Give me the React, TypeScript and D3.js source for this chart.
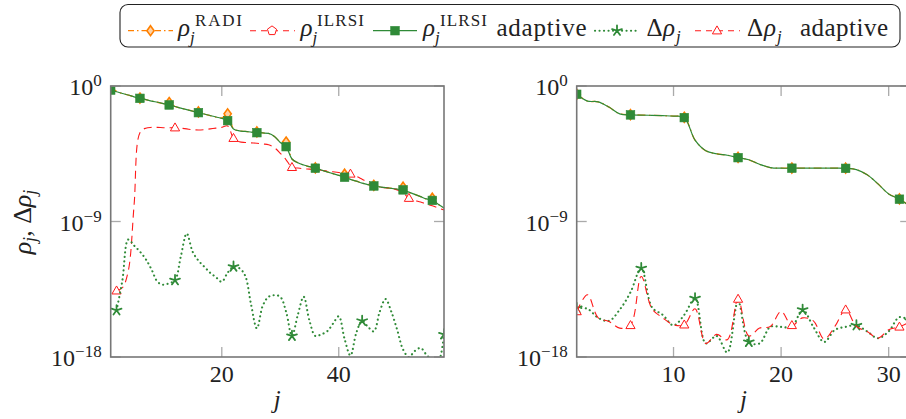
import React from 'react';
import * as d3 from 'd3';

// ---- data (log10 of the values) ----
// left panel, j = 1..58
const leftRadiExp = [
  -0.02, -0.36, -0.5, -0.6, -0.72, -0.8, -0.9, -1.0, -1.08, -1.17,
  -1.1, -1.36, -1.47, -1.57, -1.67, -1.72, -1.86, -1.96, -2.06, -2.12,
  -1.85, -2.85, -2.98, -3.02, -3.06, -3.05, -3.12, -3.15, -3.35, -3.7,
  -3.72, -4.85, -5.1, -5.25, -5.36, -5.44, -5.58, -5.7, -5.82, -5.94,
  -5.86, -6.2, -6.32, -6.45, -6.55, -6.6, -6.7, -6.75, -6.8, -6.85,
  -6.72, -7.05, -7.2, -7.35, -7.5, -7.45, -7.85, -8.1,
];
const leftAdaptiveExp = [
  -0.27, -0.38, -0.5, -0.6, -0.72, -0.82, -0.9, -1.0, -1.08, -1.17,
  -1.26, -1.36, -1.47, -1.57, -1.67, -1.77, -1.86, -1.96, -2.06, -2.15,
  -2.3, -2.85, -2.98, -3.02, -3.06, -3.1, -3.12, -3.15, -3.35, -3.75,
  -4.03, -4.85, -5.1, -5.25, -5.36, -5.46, -5.58, -5.7, -5.82, -5.94,
  -6.06, -6.2, -6.32, -6.45, -6.55, -6.64, -6.7, -6.75, -6.8, -6.85,
  -6.9, -7.05, -7.2, -7.35, -7.5, -7.6, -7.85, -8.1,
];
// left panel, j = 2..58
const leftRedExp = [
  -13.6, -13.4, -12.3, -7.9, -3.1, -2.8, -2.75, -2.75, -2.77, -2.77,
  -2.77, -2.8, -2.85, -2.9, -2.92, -2.9, -2.85, -2.8, -2.75, -2.65,
  -3.47, -3.7, -3.75, -3.78, -3.8, -3.85, -3.9, -4.1, -4.47, -4.9,
  -5.4, -5.45, -5.5, -5.52, -5.55, -5.6, -5.65, -5.7, -5.75, -5.8,
  -5.84, -6.0, -6.2, -6.4, -6.65, -6.72, -6.76, -6.8, -6.9, -7.1,
  -7.45, -7.6, -7.7, -7.85, -7.96, -8.1, -8.23,
];
const leftDeltaExp = [
  -14.9, -12.9, -10.2, -10.6, -11.0, -11.5, -12.2, -13.0, -13.2, -13.1,
  -12.9, -11.3, -9.8, -11.0, -11.6, -12.0, -12.4, -12.7, -13.0, -12.4,
  -12.0, -12.1, -12.6, -14.5, -16.1, -14.6, -14.0, -13.9, -14.0, -15.0,
  -16.6, -15.2, -14.0, -15.6, -16.6, -16.5, -16.3, -15.8, -15.3, -16.8,
  -17.9, -16.4, -15.6, -16.0, -16.3, -15.0, -14.15, -15.0, -16.2, -17.5,
  -18.0, -17.6, -17.4, -17.85, -18.2, -18.3, -16.5,
];
const leftSquareJ = [1, 6, 11, 16, 21, 26, 31, 36, 41, 46, 51, 56];
const leftRedMarkJ = [2, 12, 22, 32, 42, 52];
const leftStarJ = [2, 12, 22, 32, 44, 58];

// right panel, j = 1..32
const rightRadiExp = [
  -0.55, -1.0, -1.05, -1.4, -1.85, -1.9, -1.93, -1.95, -1.97, -2.0,
  -2.08, -3.6, -4.3, -4.5, -4.6, -4.74, -4.9, -5.2, -5.42, -5.46,
  -5.45, -5.46, -5.46, -5.46, -5.46, -5.46, -5.55, -5.9, -6.5, -7.17,
  -7.5, -8.0,
];
const rightAdaptiveExp = [
  -0.55, -1.0, -1.05, -1.4, -1.85, -1.92, -1.93, -1.95, -1.97, -2.0,
  -2.1, -3.6, -4.3, -4.5, -4.6, -4.76, -4.9, -5.2, -5.42, -5.46,
  -5.46, -5.46, -5.46, -5.46, -5.46, -5.47, -5.55, -5.9, -6.5, -7.17,
  -7.52, -8.0,
];
const rightDeltaExp = [
  -14.75, -14.8, -15.4, -15.6, -14.86, -13.7, -12.1, -14.7, -15.2, -15.9,
  -15.2, -14.1, -17.1, -16.6, -17.7, -14.3, -17.0, -17.1, -16.0, -16.0,
  -16.0, -14.86, -16.0, -17.0, -16.2, -16.0, -15.9, -16.3, -16.75, -16.3,
  -15.35, -15.6,
];
const rightDeltaAdaptiveExp = [
  -14.98, -13.87, -15.4, -15.64, -16.08, -15.9, -12.65, -14.8, -15.4, -15.86,
  -15.86, -14.8, -17.1, -16.5, -16.85, -14.15, -16.6, -16.08, -15.97, -14.97,
  -15.9, -15.4, -15.6, -16.8, -15.97, -14.86, -15.97, -16.3, -16.75, -16.19,
  -16.0, -15.65,
];
const rightSquareJ = [1, 6, 11, 16, 21, 26, 31];
const rightStarJ = [1, 7, 12, 17, 22, 27, 32];
const rightTriJ = [1, 6, 11, 16, 21, 26, 31];

const yTicks = [1e-18, 1e-9, 1];
const yTickLabels = ['−18', '−9', '0'];
const leftXTicks = [20, 40];
const rightXTicks = [10, 20, 30];

// ---- styles ----
const ORANGE = '#ff8000';
const RED = '#ff1a1a';
const GREEN = '#2f8a37';
const AXIS = '#777';
const TICK = '#aaa';
const FONT = 'Liberation Serif';

const top = 86;
const bottom = 357;

type Pt = [number, number];

const toPts = (start: number, exps: number[]): Pt[] =>
  exps.map((e, i) => [start + i, Math.pow(10, e)]);

function Diamond({ x, y }: { x: number; y: number }) {
  return (
    <path d={`M${x},${y - 5}L${x + 3.6},${y}L${x},${y + 5}L${x - 3.6},${y}Z`}
      fill="#ffd2a6" stroke={ORANGE} strokeWidth={1.6} />
  );
}
function Square({ x, y }: { x: number; y: number }) {
  return <rect x={x - 4.3} y={y - 4.3} width={8.6} height={8.6} fill={GREEN} stroke={GREEN} strokeWidth={0.6} />;
}
function Triangle({ x, y }: { x: number; y: number }) {
  return (
    <path d={`M${x},${y - 4.8}L${x + 4.6},${y + 3.2}L${x - 4.6},${y + 3.2}Z`}
      fill="white" stroke={RED} strokeWidth={1} />
  );
}
function Pentagon({ x, y }: { x: number; y: number }) {
  const pts = d3.range(5).map((k) => {
    const a = -Math.PI / 2 + (k * 2 * Math.PI) / 5;
    return `${x + 4.8 * Math.cos(a)},${y + 4.8 * Math.sin(a)}`;
  });
  return <polygon points={pts.join(' ')} fill="white" stroke={RED} strokeWidth={1} />;
}
function Star({ x, y }: { x: number; y: number }) {
  const rays = d3.range(5).map((k) => {
    const a = -Math.PI / 2 + (k * 2 * Math.PI) / 5;
    return `M${x},${y}L${x + 5.2 * Math.cos(a)},${y + 5.2 * Math.sin(a)}`;
  });
  return <path d={rays.join('')} stroke={GREEN} strokeWidth={1.8} fill="none" strokeLinecap="round" />;
}

type Series = {
  pts: Pt[];
  color: string;
  dash: string;
  width: number;
  cap?: 'round' | 'butt';
  marks: number[];
  Mark: (p: { x: number; y: number }) => JSX.Element;
};

function Panel({ id, x0, x1, domain, xTicks, series }: {
  id: string; x0: number; x1: number; domain: [number, number]; xTicks: number[]; series: Series[];
}) {
  const x = d3.scaleLinear().domain(domain).range([x0, x1]);
  const y = d3.scaleLog().domain([1e-18, 1]).range([bottom, top]);
  const line = d3.line<Pt>()
    .x((d) => x(d[0]))
    .y((d) => y(d[1]))
    .curve(d3.curveCatmullRom.alpha(0.5));

  return (
    <g>
      <defs>
        <clipPath id={id}>
          <rect x={x0} y={top} width={x1 - x0} height={bottom - top} />
        </clipPath>
      </defs>
      <g clipPath={`url(#${id})`}>
        {series.map((s, i) => (
          <g key={i}>
            <path d={line(s.pts) || ''} fill="none" stroke={s.color} strokeWidth={s.width}
              strokeDasharray={s.dash} strokeLinecap={s.cap || 'butt'} />
            {s.marks.map((j) => {
              const p = s.pts.find((d) => d[0] === j);
              if (!p) return null;
              const M = s.Mark;
              return <M key={j} x={x(p[0])} y={y(p[1])} />;
            })}
          </g>
        ))}
      </g>
      {/* ticks */}
      {xTicks.map((t) => (
        <g key={t}>
          <line x1={x(t)} x2={x(t)} y1={bottom} y2={bottom - 10} stroke={TICK} strokeWidth={1.3} />
          <line x1={x(t)} x2={x(t)} y1={top} y2={top + 10} stroke={TICK} strokeWidth={1.3} />
          <text x={x(t)} y={382} textAnchor="middle" fontSize={24} fontFamily={FONT} fill="#222">{t}</text>
        </g>
      ))}
      {yTicks.map((t, i) => (
        <g key={t}>
          <line x1={x0} x2={x0 + 10} y1={y(t)} y2={y(t)} stroke={TICK} strokeWidth={1.3} />
          <line x1={x1} x2={x1 - 10} y1={y(t)} y2={y(t)} stroke={TICK} strokeWidth={1.3} />
          <text x={x0 - 9} y={y(t) + 9} textAnchor="end" fontSize={24} fontFamily={FONT} fill="#222">
            10<tspan dy={-9} fontSize={17}>{yTickLabels[i]}</tspan>
          </text>
        </g>
      ))}
      <rect x={x0} y={top} width={x1 - x0} height={bottom - top} fill="none" stroke={AXIS} strokeWidth={1.6} />
      <text x={(x0 + x1) / 2} y={408} textAnchor="middle" fontSize={25} fontStyle="italic" fontFamily={FONT} fill="#222">j</text>
    </g>
  );
}

const radiStyle = { color: ORANGE, dash: '8,3.5,1.5,3.5', width: 1.3, Mark: Diamond };
const adaptStyle = { color: GREEN, dash: '', width: 1.2, Mark: Square };
const redStyle = { color: RED, dash: '8,5', width: 1.1, Mark: Triangle };
const deltaStyle = { color: GREEN, dash: '0.1,4.4', width: 2.1, cap: 'round' as const, Mark: Star };

export default function App() {
  const leftSeries: Series[] = [
    { ...radiStyle, pts: toPts(1, leftRadiExp), marks: leftSquareJ },
    { ...redStyle, pts: toPts(2, leftRedExp), marks: leftRedMarkJ },
    { ...adaptStyle, pts: toPts(1, leftAdaptiveExp), marks: leftSquareJ },
    { ...deltaStyle, pts: toPts(2, leftDeltaExp), marks: leftStarJ },
  ];
  const rightSeries: Series[] = [
    { ...radiStyle, pts: toPts(1, rightRadiExp), marks: rightSquareJ },
    { ...adaptStyle, pts: toPts(1, rightAdaptiveExp), marks: rightSquareJ },
    { ...deltaStyle, pts: toPts(1, rightDeltaExp), marks: rightStarJ },
    { ...redStyle, pts: toPts(1, rightDeltaAdaptiveExp), marks: rightTriJ },
  ];

  const ly = 30.7;

  return (
    <svg width={906} height={419} fontFamily={FONT}
      style={{ position: 'absolute', left: 0, top: 0, background: 'white', fontFamily: "'Liberation Serif', serif" }}>
      <Panel id="clipL" x0={110.7} x1={444} domain={[1, 58]} xTicks={leftXTicks} series={leftSeries} />
      <Panel id="clipR" x0={576.7} x1={910.2} domain={[1, 32]} xTicks={rightXTicks} series={rightSeries} />

      {/* y axis title */}
      <text transform="translate(31,222) rotate(-90)" textAnchor="middle" fontSize={26} fontFamily={FONT} fill="#222">
        <tspan fontStyle="italic">ρ</tspan>
        <tspan dy={5} fontSize={18} fontStyle="italic">j</tspan>
        <tspan dy={-5}>, Δ</tspan>
        <tspan fontStyle="italic">ρ</tspan>
        <tspan dy={5} fontSize={18} fontStyle="italic">j</tspan>
      </text>

      {/* legend */}
      <rect x={120} y={4.5} width={780} height={42.5} rx={8} fill="white" stroke="#222" strokeWidth={1.1} />
      <line x1={128} x2={173} y1={ly} y2={ly} stroke={ORANGE} strokeWidth={1.3} strokeDasharray="6,3,1.5,3" />
      <Diamond x={150.5} y={ly} />
      <text fontSize={25} fontFamily={FONT} fill="#222">
        <tspan x={178} y={36} fontStyle="italic">ρ</tspan>
        <tspan x={190} y={43} fontSize={17} fontStyle="italic">j</tspan>
        <tspan x={195} y={26} fontSize={17} textLength={47}>RADI</tspan>
      </text>

      <line x1={250} x2={295} y1={ly} y2={ly} stroke={RED} strokeWidth={1.1} strokeDasharray="6,5" />
      <Pentagon x={272} y={ly} />
      <text fontSize={25} fontFamily={FONT} fill="#222">
        <tspan x={300.5} y={36} fontStyle="italic">ρ</tspan>
        <tspan x={312.5} y={43} fontSize={17} fontStyle="italic">j</tspan>
        <tspan x={317} y={26} fontSize={17} textLength={47}>ILRSI</tspan>
      </text>

      <line x1={373} x2={417} y1={ly} y2={ly} stroke={GREEN} strokeWidth={1.2} />
      <Square x={395} y={ly} />
      <text fontSize={25} fontFamily={FONT} fill="#222">
        <tspan x={423} y={36} fontStyle="italic">ρ</tspan>
        <tspan x={435} y={43} fontSize={17} fontStyle="italic">j</tspan>
        <tspan x={440} y={26} fontSize={17} textLength={47}>ILRSI</tspan>
        <tspan x={496.5} y={36} textLength={90}>adaptive</tspan>
      </text>

      <line x1={595} x2={640} y1={ly} y2={ly} stroke={GREEN} strokeWidth={2.1} strokeDasharray="0.1,4.4" strokeLinecap="round" />
      <Star x={617} y={ly} />
      <text fontSize={25} fontFamily={FONT} fill="#222">
        <tspan x={646.5} y={36}>Δ</tspan>
        <tspan x={663} y={36} fontStyle="italic">ρ</tspan>
        <tspan x={676} y={42} fontSize={17} fontStyle="italic">j</tspan>
      </text>

      <line x1={695} x2={740} y1={ly} y2={ly} stroke={RED} strokeWidth={1.1} strokeDasharray="6,5" />
      <Triangle x={717} y={ly} />
      <text fontSize={25} fontFamily={FONT} fill="#222">
        <tspan x={747} y={36}>Δ</tspan>
        <tspan x={764} y={36} fontStyle="italic">ρ</tspan>
        <tspan x={777} y={42} fontSize={17} fontStyle="italic">j</tspan>
        <tspan x={800} y={36} textLength={88}>adaptive</tspan>
      </text>
    </svg>
  );
}
